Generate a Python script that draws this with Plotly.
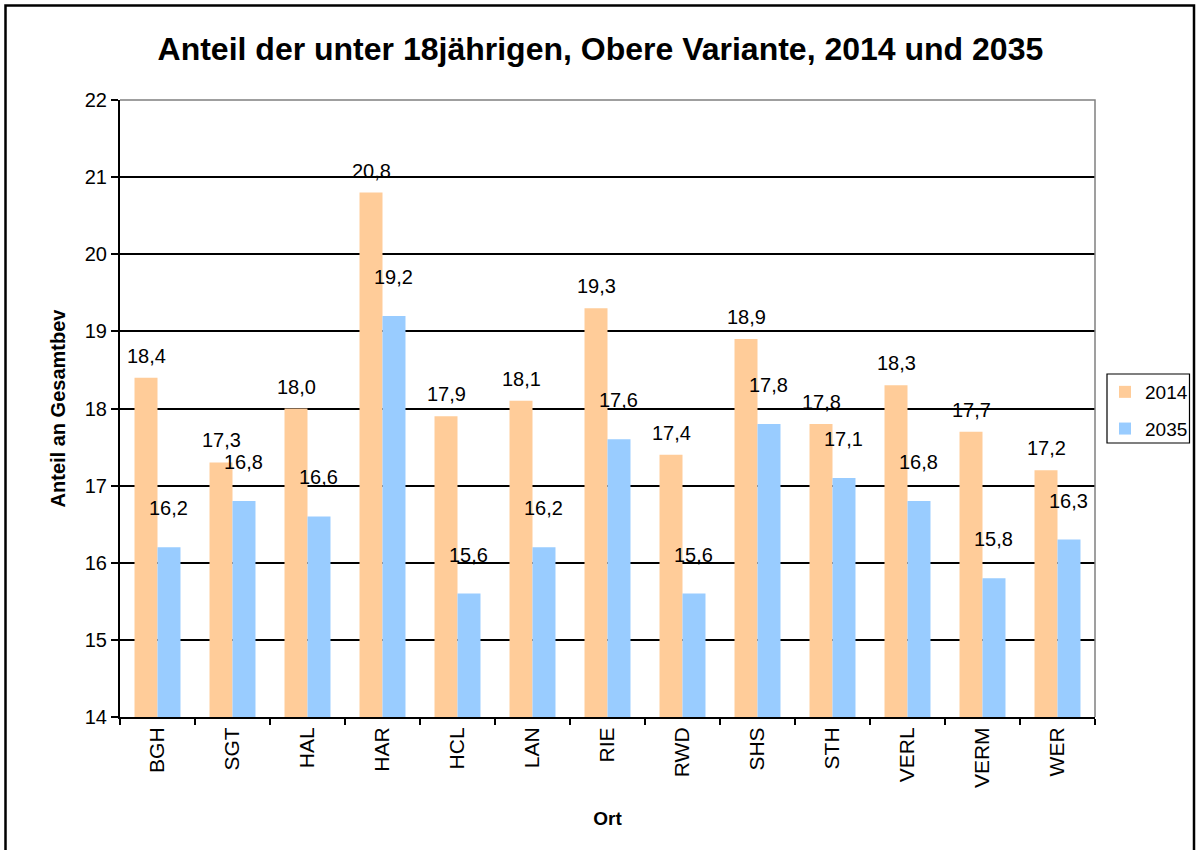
import plotly.graph_objects as go

# ---- data ----
categories = ["BGH", "SGT", "HAL", "HAR", "HCL", "LAN", "RIE", "RWD", "SHS", "STH", "VERL", "VERM", "WER"]
values_2014 = [18.4, 17.3, 18.0, 20.8, 17.9, 18.1, 19.3, 17.4, 18.9, 17.8, 18.3, 17.7, 17.2]
values_2035 = [16.2, 16.8, 16.6, 19.2, 15.6, 16.2, 17.6, 15.6, 17.8, 17.1, 16.8, 15.8, 16.3]
series_names = ["2014", "2035"]
y_ticks = [14, 15, 16, 17, 18, 19, 20, 21, 22]

# ---- style ----
FONT = "Arial, 'Liberation Sans', sans-serif"
COL_2014 = "#FFCC99"
COL_2035 = "#99CCFF"
W, H = 1196, 850
ML, MR, MT, MB = 120, 101, 100, 133
PW, PH = W - ML - MR, H - MT - MB
BARGAP = 0.387
cat_px = PW / len(categories)
bar_px = cat_px * (1 - BARGAP) / 2
label_lift = {"2014": 22, "2035": 39}

fig = go.Figure()
for name, vals, col in [(series_names[0], values_2014, COL_2014),
                        (series_names[1], values_2035, COL_2035)]:
    fig.add_trace(go.Bar(x=categories, y=vals, name=name, legendgroup=name,
                         marker=dict(color=col, line=dict(width=0))))

def fmt(v):
    return f"{v:.1f}".replace(".", ",")

annotations = []
for name, vals, sign in [(series_names[0], values_2014, -1), (series_names[1], values_2035, 1)]:
    for c, v in zip(categories, vals):
        annotations.append(dict(x=c, y=v, xref="x", yref="y", text=fmt(v),
                                showarrow=False, xshift=sign * bar_px / 2,
                                yshift=label_lift[name], yanchor="middle",
                                font=dict(family=FONT, size=20, color="black")))

def px_to_paper_x(px):
    return (px - ML) / PW

def px_to_paper_y(py):
    return (H - MB - py) / PH

shapes = [
    # plot-area gray border (top and right)
    dict(type="path", xref="paper", yref="paper",
         path="M 0,1 L 1,1 L 1,0", line=dict(color="#808080", width=1.5), layer="above"),
    # outer chart border
    dict(type="rect", xref="paper", yref="paper",
         x0=px_to_paper_x(5.5), x1=px_to_paper_x(1194),
         y0=px_to_paper_y(870), y1=px_to_paper_y(5.5),
         line=dict(color="black", width=2.5), fillcolor="rgba(0,0,0,0)"),
    # legend frame
    dict(type="rect", xref="paper", yref="paper",
         x0=px_to_paper_x(1107), x1=px_to_paper_x(1189.5),
         y0=px_to_paper_y(443), y1=px_to_paper_y(374),
         line=dict(color="black", width=1.2), fillcolor="white", layer="below"),
]

fig.update_layout(
    width=W, height=H, autosize=False,
    margin=dict(l=ML, r=MR, t=MT, b=MB, pad=0, autoexpand=False),
    paper_bgcolor="white", plot_bgcolor="white",
    font=dict(family=FONT, color="black", size=20),
    title=dict(text="<b>Anteil der unter 18jährigen, Obere Variante, 2014 und 2035</b>",
               x=0.502, xanchor="center", y=1 - 49 / H, yanchor="middle",
               font=dict(family=FONT, size=32, color="black")),
    barmode="group", bargap=BARGAP, bargroupgap=0,
    showlegend=True,
    legend=dict(x=px_to_paper_x(1105), y=px_to_paper_y(373), xanchor="left", yanchor="top",
                bgcolor="rgba(0,0,0,0)", borderwidth=0,
                font=dict(family=FONT, size=19, color="black"),
                itemwidth=30, traceorder="grouped", tracegroupgap=9),
    xaxis=dict(title=dict(text="<b>Ort</b>", font=dict(family=FONT, size=19), standoff=25),
               tickangle=-90, tickfont=dict(family=FONT, size=21),
               showline=True, linecolor="black", linewidth=2,
               ticks="outside", ticklen=6, tickcolor="black", tickwidth=2,
               tickson="boundaries", showgrid=False),
    yaxis=dict(title=dict(text="<b>Anteil an Gesamtbev</b>", font=dict(family=FONT, size=20), standoff=14),
               range=[y_ticks[0], y_ticks[-1]], tickvals=y_ticks,
               tickfont=dict(family=FONT, size=20),
               showline=True, linecolor="black", linewidth=2,
               ticks="outside", ticklen=7, tickcolor="black", tickwidth=2,
               showgrid=True, gridcolor="black", gridwidth=1.5, zeroline=False),
    annotations=annotations,
    shapes=shapes,
)

post = ("var gd=document.getElementById('{plot_id}');"
        "document.body.style.margin='0';document.body.style.padding='0';"
        "document.documentElement.style.overflow='hidden';document.body.style.overflow='hidden';"
        "Plotly.relayout(gd,{width:%d,height:%d});" % (W, H))
fig.write_html("out.html", config={"responsive": False, "displayModeBar": False}, post_script=post)
